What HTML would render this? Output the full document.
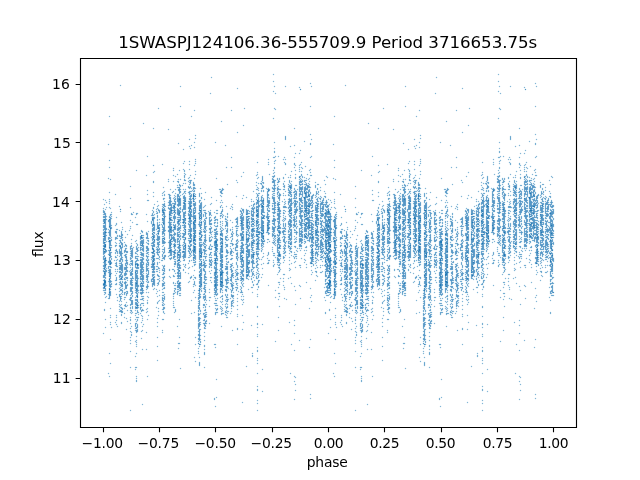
<!DOCTYPE html>
<html><head><meta charset="utf-8"><style>html,body{margin:0;padding:0;background:#fff}svg{display:block}</style></head>
<body><svg width="640" height="480" viewBox="0 0 640 480">
<defs><filter id="hf" x="0" y="0" width="640" height="480" filterUnits="userSpaceOnUse"><feConvolveMatrix order="3" kernelMatrix="0 0.1 0 0.1 1 0.1 0 0.1 0" divisor="1" edgeMode="none" preserveAlpha="false"/></filter></defs>
<rect width="640" height="480" fill="#fff"/>
<g filter="url(#hf)"><g id="P" fill="none" stroke="#1f77b4" stroke-width="1" shape-rendering="crispEdges">
<path stroke-opacity="0.550" d="M498 74.5h1m-63 3h1m61 4h1m36 2h1m-191 2h1m59 1h1m93 0h1m10 0h1m25 0h1m-13 1h1m-63 1h1m35 3h1m-64 2h1m64 0h1m-96 13h1m129 0h1m-153 2h1m85 0h1m29 0h1m0 1h1m-82 1h1m36 0h1m-123 6h1m81 0h1m81 2h1m-53 3h1m-79 2h1m99 2h1m-91 3h1m140 0h1m-127 1h1m68 3h1m72 2h1m-116 1h1m89 1h1m-1 1h1m-91 1h1m89 0h1m-97 1h1m95 0h1m25 0h1m-8 2h1m-111 1h1m20 0h1m58 0h1m-97 1h1m131 0h1m-203 1h1m201 0h1m-120 1h1m33 0h1m68 0h1m-106 1h1m100 0h1m-97 1h1m-5 1h1m83 0h1m-92 1h1m116 1h1m-27 1h1m-1 1h1m20 1h1m3 0h1m-153 3h1m127 0h1m2 0h1m32 0h1m-81 1h1m41 0h2m9 0h1m9 0h1m15 0h1m-116 2h1m72 0h1m14 0h1m1 0h1m-177 1h1m165 0h1m-92 1h1m4 0h1m5 0h1m78 0h1m-18 1h1m10 0h1m15 0h1m16 0h1m-119 1h1m11 0h1m78 0h1m10 0h1m8 0h1m-133 1h1m26 0h1m78 0h1m16 0h1m8 0h1m5 0h1m-148 1h1m40 0h1m100 0h1m3 0h1m5 1h1m-197 1h1m116 0h1m4 0h1m42 0h1m19 0h1m4 0h1m1 0h1m-129 1h1m100 0h1m27 0h1m-120 1h1m5 0h1m109 0h1m10 0h1m-175 1h1m36 0h1m5 0h1m4 0h1m88 0h1m21 0h1m13 0h1m-156 1h1m29 0h1m10 0h1m95 0h1m7 0h1m1 0h1m-149 1h1m89 0h1m13 0h1m16 0h1m35 0h1m-127 1h1m88 0h1m-97 1h1m7 0h1m9 0h1m61 0h1m11 0h1m15 0h1m9 0h1m5 0h1m5 0h1m-162 1h1m26 0h1m10 0h1m5 0h1m65 0h1m17 0h1m15 0h1m10 0h1m8 0h2m-137 1h1m8 0h1m56 0h1m20 0h1m9 0h3m24 0h2m1 0h1m23 0h1m-143 1h1m4 0h1m68 0h1m3 0h1m10 0h1m9 0h1m4 0h1m1 0h1m4 0h1m6 0h1m1 0h1m22 0h1m-220 1h1m79 0h1m5 0h1m21 0h1m40 0h1m4 0h1m9 0h1m4 0h1m1 0h1m3 0h1m11 0h1m4 0h1m5 0h1m2 0h1m-200 1h1m57 0h1m9 0h1m1 0h1m3 0h1m77 0h1m9 0h2m3 0h1m1 0h1m19 0h1m1 0h1m6 0h1m-125 1h2m3 0h3m44 0h1m25 0h1m10 0h3m2 0h1m10 0h1m10 0h1m1 0h1m1 0h3m17 0h1m-172 1h1m14 0h1m4 0h1m3 0h2m9 0h1m1 0h1m70 0h1m10 0h3m3 0h2m4 0h1m4 0h1m1 0h1m7 0h4m1 0h1m4 0h1m-157 1h1m24 0h1m10 0h2m2 0h1m43 0h1m18 0h1m5 0h2m8 0h3m2 0h2m10 0h1m9 0h3m3 0h1m9 0h1m-133 1h1m1 0h1m4 0h1m2 0h1m64 0h1m1 0h2m1 0h1m10 0h1m8 0h1m6 0h1m8 0h1m2 0h1m3 0h1m1 0h1m-130 1h1m9 0h1m3 0h2m32 0h1m33 0h1m12 0h1m2 0h1m5 0h1m4 0h1m2 0h1m7 0h4m1 0h3m2 0h1m7 0h2m6 0h1m-149 1h1m1 0h2m1 0h1m10 0h2m61 0h1m5 0h1m10 0h3m8 0h1m4 0h3m3 0h2m3 0h1m5 0h3m6 0h1m-186 1h1m49 0h1m7 0h1m1 0h1m71 0h2m10 0h1m3 0h1m4 0h2m3 0h4m7 0h1m2 0h1m2 0h1m1 0h3m5 0h1m-153 1h1m13 0h3m8 0h3m2 0h2m62 0h1m4 0h2m8 0h1m1 0h1m2 0h1m6 0h1m4 0h1m1 0h1m7 0h4m1 0h2m1 0h4m4 0h1m4 0h1m-142 1h1m9 0h1m1 0h1m1 0h3m4 0h1m21 0h1m35 0h1m2 0h2m3 0h1m1 0h1m3 0h4m1 0h2m9 0h1m1 0h2m2 0h1m4 0h4m1 0h4m9 0h1m-148 1h1m4 0h1m2 0h3m2 0h1m1 0h1m7 0h1m25 0h2m1 0h2m32 0h2m9 0h3m3 0h2m2 0h4m2 0h2m3 0h1m1 0h1m3 0h1m2 0h1m1 0h4m1 0h4m1 0h1m7 0h1m-171 1h1m30 0h2m12 0h1m1 0h1m26 0h2m35 0h1m2 0h1m1 0h1m5 0h1m4 0h1m2 0h1m10 0h2m1 0h1m3 0h1m3 0h1m1 0h1m2 0h2m2 0h2m10 0h1m-157 1h1m8 0h1m5 0h2m3 0h2m3 0h3m1 0h2m25 0h2m31 0h1m7 0h1m1 0h1m3 0h2m3 0h3m3 0h1m6 0h1m3 0h2m3 0h3m2 0h4m3 0h1m1 0h2m6 0h1m1 0h1m5 0h1m-216 1h1m43 0h1m9 0h1m8 0h1m6 0h2m3 0h1m3 0h2m15 0h1m14 0h2m45 0h1m9 0h2m9 0h4m1 0h2m1 0h1m3 0h1m1 0h1m1 0h5m1 0h1m5 0h1m1 0h1m-157 1h1m12 0h1m3 0h1m3 0h1m1 0h1m3 0h2m2 0h2m4 0h1m1 0h1m19 0h2m33 0h1m1 0h2m7 0h1m5 0h2m2 0h1m1 0h1m3 0h1m5 0h2m4 0h2m2 0h2m1 0h1m1 0h1m1 0h1m1 0h1m1 0h1m5 0h2m7 0h1m-211 1h1m31 0h1m16 0h1m3 0h2m7 0h2m3 0h1m6 0h1m1 0h1m3 0h1m3 0h1m57 0h1m9 0h2m3 0h1m4 0h1m1 0h2m7 0h1m1 0h2m2 0h3m2 0h4m2 0h2m1 0h2m3 0h1m2 0h1m1 0h1m-157 1h1m1 0h1m4 0h2m3 0h1m2 0h2m1 0h1m3 0h1m5 0h2m2 0h1m4 0h1m20 0h1m22 0h1m13 0h2m3 0h1m4 0h2m4 0h2m3 0h3m2 0h1m1 0h1m2 0h2m1 0h1m2 0h1m1 0h1m2 0h1m2 0h1m2 0h2m2 0h1m2 0h2m1 0h1m-163 1h1m15 0h1m5 0h1m1 0h3m3 0h2m4 0h3m2 0h1m4 0h1m21 0h1m14 0h1m20 0h1m3 0h1m5 0h1m4 0h1m4 0h1m1 0h1m10 0h2m2 0h2m3 0h1m2 0h1m2 0h4m2 0h2m3 0h1m3 0h1m3 0h2m-157 1h2m3 0h1m2 0h1m1 0h1m3 0h3m4 0h1m2 0h1m7 0h1m9 0h1m34 0h1m9 0h1m1 0h1m2 0h2m4 0h2m3 0h3m3 0h2m14 0h1m1 0h1m4 0h1m1 0h1m1 0h3m3 0h2m2 0h1m2 0h1m2 0h1m3 0h1m-196 1h1m32 0h2m4 0h2m2 0h1m1 0h1m1 0h4m2 0h3m3 0h2m1 0h1m2 0h1m5 0h1m40 0h1m15 0h1m2 0h1m1 0h1m3 0h1m1 0h1m2 0h3m3 0h2m9 0h1m1 0h1m1 0h4m3 0h2m3 0h1m3 0h1m1 0h2m4 0h1m1 0h2m2 0h1m-221 1h1m5 0h1m53 0h1m6 0h1m3 0h2m1 0h2m1 0h1m3 0h2m3 0h3m1 0h2m9 0h1m46 0h1m4 0h1m1 0h1m2 0h1m1 0h1m3 0h1m5 0h2m4 0h1m4 0h1m3 0h4m7 0h3m2 0h2m1 0h3m1 0h1m4 0h2m2 0h1m2 0h1m-219 1h1m41 0h2m20 0h2m3 0h1m2 0h4m2 0h3m4 0h1m2 0h1m5 0h2m15 0h1m4 0h1m36 0h1m1 0h3m4 0h3m3 0h2m4 0h1m9 0h3m2 0h2m3 0h4m1 0h2m2 0h5m4 0h1m4 0h2m2 0h1m-218 1h1m47 0h1m6 0h1m4 0h3m2 0h2m1 0h4m3 0h1m3 0h4m2 0h1m4 0h1m51 0h1m1 0h1m3 0h3m1 0h3m3 0h3m3 0h2m2 0h1m4 0h1m2 0h1m2 0h4m2 0h4m2 0h2m2 0h3m1 0h1m1 0h1m1 0h1m4 0h2m1 0h1m1 0h1m3 0h1m-221 1h1m61 0h3m4 0h1m2 0h3m2 0h2m4 0h3m3 0h1m3 0h1m1 0h1m18 0h1m1 0h1m33 0h3m3 0h2m3 0h3m4 0h2m2 0h2m4 0h1m3 0h2m1 0h1m1 0h1m1 0h1m1 0h1m1 0h1m1 0h2m1 0h4m1 0h1m1 0h2m2 0h2m4 0h3m1 0h3m-219 1h1m54 0h1m4 0h2m1 0h4m2 0h3m2 0h1m1 0h1m2 0h4m1 0h3m4 0h2m9 0h1m42 0h1m1 0h3m2 0h3m4 0h2m2 0h4m1 0h2m6 0h1m2 0h1m1 0h3m1 0h3m2 0h1m2 0h1m1 0h3m1 0h4m1 0h1m2 0h3m1 0h3m3 0h1m-223 1h1m49 0h1m7 0h3m4 0h3m2 0h2m1 0h4m3 0h2m3 0h2m2 0h3m4 0h2m8 0h1m21 0h1m20 0h2m1 0h1m1 0h1m1 0h2m5 0h2m5 0h1m2 0h2m5 0h1m3 0h1m1 0h2m2 0h3m2 0h2m3 0h3m1 0h3m1 0h1m4 0h2m1 0h7m-169 1h1m4 0h2m3 0h4m1 0h2m2 0h4m2 0h3m3 0h3m1 0h3m3 0h3m3 0h1m15 0h1m29 0h1m1 0h1m4 0h2m1 0h1m5 0h3m2 0h1m1 0h2m1 0h2m10 0h3m2 0h2m3 0h1m1 0h2m1 0h9m2 0h2m3 0h1m2 0h1m1 0h1m1 0h2m-210 1h1m37 0h1m4 0h1m1 0h2m5 0h1m1 0h1m4 0h1m4 0h3m3 0h1m1 0h1m2 0h1m4 0h3m2 0h1m15 0h1m5 0h1m4 0h1m17 0h1m3 0h1m2 0h4m1 0h1m4 0h3m3 0h1m1 0h1m3 0h1m4 0h3m3 0h2m3 0h2m1 0h1m1 0h1m1 0h2m1 0h4m4 0h1m2 0h1m1 0h2m1 0h1m1 0h2m1 0h4m-223 1h1m2 0h1m20 0h1m22 0h1m14 0h1m1 0h6m4 0h1m2 0h3m2 0h3m3 0h2m3 0h3m1 0h1m16 0h1m1 0h1m9 0h1m19 0h1m1 0h1m1 0h3m2 0h3m4 0h1m5 0h2m1 0h3m3 0h4m1 0h4m2 0h1m1 0h1m2 0h2m3 0h1m4 0h1m1 0h2m2 0h3m2 0h1m1 0h2m2 0h2m-225 1h1m6 0h1m42 0h1m3 0h1m4 0h1m1 0h1m3 0h4m1 0h2m2 0h1m1 0h2m2 0h3m2 0h2m3 0h3m3 0h3m28 0h1m10 0h1m9 0h4m1 0h1m1 0h1m3 0h2m3 0h1m1 0h1m2 0h3m3 0h2m8 0h1m1 0h2m4 0h1m2 0h4m1 0h1m1 0h3m2 0h1m3 0h4m1 0h4m-219 1h1m50 0h1m1 0h1m3 0h3m4 0h3m2 0h1m2 0h2m1 0h1m1 0h4m3 0h3m1 0h1m1 0h1m3 0h1m1 0h1m20 0h1m9 0h1m9 0h2m2 0h1m5 0h2m2 0h3m2 0h3m3 0h1m4 0h4m1 0h1m1 0h1m9 0h3m2 0h4m1 0h2m4 0h2m1 0h2m5 0h3m2 0h1m1 0h2m1 0h1m1 0h2m-226 1h1m48 0h1m5 0h2m3 0h3m4 0h1m1 0h4m1 0h3m2 0h1m8 0h1m1 0h3m5 0h1m1 0h3m4 0h1m5 0h2m4 0h1m17 0h1m1 0h2m2 0h3m2 0h1m1 0h1m3 0h2m2 0h3m3 0h3m4 0h1m3 0h3m2 0h2m5 0h1m4 0h3m2 0h3m1 0h1m2 0h3m2 0h2m1 0h3m2 0h1m1 0h1m2 0h2m1 0h1m-226 1h2m15 0h1m32 0h1m2 0h1m2 0h1m2 0h2m5 0h3m5 0h4m1 0h1m2 0h1m2 0h4m1 0h1m1 0h1m4 0h2m6 0h1m12 0h2m17 0h2m1 0h1m2 0h2m1 0h1m1 0h3m2 0h1m1 0h1m2 0h3m4 0h2m4 0h1m2 0h4m4 0h1m2 0h3m3 0h3m2 0h4m1 0h3m1 0h5m3 0h3m1 0h4m2 0h3m-226 1h2m6 0h1m21 0h1m19 0h1m3 0h1m1 0h1m2 0h1m1 0h1m4 0h3m1 0h3m1 0h4m2 0h3m3 0h3m1 0h3m3 0h3m2 0h2m3 0h2m3 0h1m6 0h1m19 0h1m1 0h1m2 0h2m3 0h1m1 0h2m1 0h1m1 0h1m2 0h4m2 0h1m4 0h4m3 0h1m3 0h1m5 0h1m1 0h1m2 0h3m3 0h2m1 0h1m1 0h5m5 0h3m2 0h1m4 0h4m-225 1h2m25 0h1m4 0h2m14 0h1m3 0h2m5 0h2m4 0h4m2 0h1m1 0h2m4 0h3m2 0h1m4 0h1m4 0h2m5 0h2m2 0h2m5 0h2m2 0h2m5 0h1m13 0h2m3 0h4m1 0h1m1 0h1m4 0h1m8 0h1m5 0h2m2 0h4m2 0h2m4 0h1m1 0h1m3 0h1m3 0h2m3 0h1m1 0h2m1 0h1m1 0h2m7 0h3m1 0h1m1 0h3m-226 1h3m4 0h2m19 0h2m3 0h1m9 0h1m5 0h1m1 0h1m7 0h3m5 0h1m6 0h3m3 0h2m3 0h4m1 0h1m5 0h3m1 0h1m1 0h1m3 0h2m11 0h1m4 0h1m12 0h1m1 0h1m4 0h1m3 0h3m2 0h3m2 0h2m4 0h2m8 0h3m8 0h1m2 0h1m2 0h2m4 0h1m4 0h2m1 0h1m2 0h1m4 0h2m3 0h3m1 0h3m-223 1h1m4 0h1m40 0h3m3 0h1m4 0h1m1 0h1m4 0h3m2 0h1m3 0h3m2 0h3m2 0h4m1 0h3m3 0h3m1 0h1m1 0h1m3 0h1m1 0h1m8 0h2m1 0h1m17 0h2m8 0h3m4 0h1m3 0h3m2 0h1m5 0h1m3 0h3m3 0h1m5 0h3m1 0h1m5 0h4m1 0h1m1 0h2m1 0h1m1 0h2m2 0h4m1 0h4m1 0h2m-224 1h4m2 0h1m1 0h1m45 0h1m5 0h3m3 0h1m3 0h3m4 0h1m2 0h2m4 0h7m3 0h3m1 0h1m1 0h1m9 0h1m4 0h1m1 0h1m2 0h1m1 0h1m12 0h2m1 0h1m2 0h2m1 0h1m2 0h2m2 0h3m2 0h1m1 0h2m1 0h4m3 0h2m3 0h3m4 0h1m3 0h2m3 0h1m1 0h1m2 0h4m1 0h1m1 0h1m2 0h1m1 0h1m3 0h3m3 0h2m1 0h4m-225 1h3m3 0h2m5 0h1m18 0h1m16 0h3m2 0h1m11 0h3m1 0h3m1 0h4m2 0h2m5 0h1m2 0h3m10 0h1m2 0h2m3 0h2m6 0h1m4 0h1m9 0h1m2 0h4m2 0h2m3 0h1m5 0h2m2 0h2m3 0h3m9 0h2m3 0h1m6 0h2m1 0h2m1 0h1m3 0h2m2 0h1m2 0h6m4 0h1m2 0h1m3 0h2m1 0h1m-223 1h1m4 0h2m40 0h3m8 0h2m5 0h1m2 0h3m4 0h1m3 0h1m3 0h1m4 0h2m4 0h1m1 0h1m3 0h2m2 0h1m4 0h1m5 0h1m4 0h1m10 0h2m2 0h4m2 0h1m1 0h2m1 0h3m2 0h1m4 0h1m1 0h2m2 0h1m5 0h2m2 0h3m4 0h2m5 0h1m2 0h1m1 0h1m3 0h2m3 0h1m1 0h2m3 0h1m2 0h4m1 0h2m2 0h2m2 0h1m-226 1h1m1 0h2m3 0h1m42 0h1m3 0h1m1 0h1m2 0h3m4 0h1m1 0h1m2 0h1m2 0h4m1 0h1m1 0h2m3 0h2m2 0h1m1 0h1m3 0h1m1 0h1m2 0h1m4 0h1m1 0h1m3 0h3m7 0h2m8 0h3m3 0h3m2 0h3m2 0h2m4 0h2m2 0h1m5 0h1m5 0h3m1 0h3m3 0h1m1 0h1m3 0h2m2 0h3m5 0h2m1 0h6m6 0h3m6 0h2m1 0h1m-226 1h3m2 0h3m19 0h1m21 0h2m3 0h1m4 0h3m4 0h4m1 0h1m3 0h3m2 0h3m3 0h3m8 0h1m3 0h2m3 0h3m2 0h2m1 0h1m9 0h1m2 0h1m6 0h1m2 0h4m2 0h3m3 0h1m1 0h1m1 0h2m3 0h2m4 0h1m1 0h1m2 0h4m3 0h1m2 0h1m1 0h1m4 0h3m1 0h2m1 0h1m2 0h1m1 0h2m1 0h1m2 0h6m2 0h4m1 0h1m1 0h1m2 0h3m-225 1h3m2 0h3m36 0h1m3 0h1m1 0h1m9 0h2m4 0h1m4 0h1m2 0h1m1 0h1m3 0h2m3 0h4m1 0h3m3 0h1m1 0h1m1 0h1m1 0h1m3 0h2m9 0h1m1 0h1m2 0h2m9 0h2m4 0h1m3 0h2m1 0h1m1 0h2m4 0h2m2 0h3m4 0h2m2 0h3m2 0h3m3 0h1m4 0h4m2 0h3m2 0h1m1 0h2m1 0h1m3 0h2m3 0h1m1 0h2m3 0h3m2 0h3m-223 1h1m3 0h2m10 0h1m10 0h1m18 0h1m1 0h1m3 0h1m1 0h1m2 0h3m3 0h4m1 0h2m2 0h2m1 0h1m1 0h1m1 0h2m3 0h2m3 0h2m3 0h2m3 0h2m3 0h1m4 0h2m1 0h1m2 0h1m5 0h2m4 0h1m3 0h2m3 0h3m2 0h1m1 0h2m1 0h1m2 0h1m1 0h3m2 0h3m3 0h3m4 0h1m3 0h2m8 0h1m1 0h2m2 0h1m4 0h3m3 0h7m4 0h3m2 0h1m1 0h3m1 0h1m-225 1h3m3 0h2m5 0h1m34 0h1m1 0h1m3 0h1m6 0h1m4 0h2m6 0h3m3 0h1m4 0h1m1 0h2m2 0h1m4 0h1m1 0h1m2 0h2m3 0h3m2 0h1m2 0h1m4 0h1m3 0h2m9 0h1m2 0h1m1 0h1m3 0h2m1 0h1m2 0h2m2 0h1m4 0h3m3 0h2m3 0h3m3 0h2m3 0h1m1 0h1m2 0h3m3 0h1m1 0h1m3 0h5m2 0h3m1 0h2m2 0h2m1 0h1m1 0h2m3 0h3m-223 1h1m3 0h2m5 0h1m19 0h2m14 0h1m1 0h1m2 0h1m1 0h1m1 0h1m1 0h2m4 0h3m1 0h1m1 0h1m2 0h2m4 0h1m3 0h3m2 0h1m1 0h1m2 0h4m2 0h2m3 0h3m8 0h1m5 0h2m9 0h1m3 0h3m2 0h2m1 0h1m1 0h2m3 0h1m1 0h2m1 0h2m4 0h3m3 0h2m3 0h1m1 0h1m2 0h1m1 0h1m2 0h4m1 0h2m1 0h1m2 0h3m2 0h1m1 0h1m1 0h2m1 0h3m1 0h4m1 0h2m3 0h4m-226 1h3m3 0h3m3 0h1m36 0h3m2 0h3m2 0h1m1 0h1m4 0h2m2 0h3m2 0h1m1 0h1m1 0h4m3 0h2m2 0h3m3 0h3m2 0h1m9 0h1m2 0h1m4 0h1m2 0h3m8 0h1m3 0h4m2 0h3m2 0h1m2 0h1m1 0h3m2 0h2m5 0h1m5 0h1m3 0h2m3 0h1m1 0h1m3 0h3m1 0h3m4 0h3m1 0h3m2 0h3m1 0h1m1 0h2m4 0h2m2 0h1m1 0h2m-226 1h3m4 0h1m19 0h1m21 0h1m1 0h1m2 0h2m3 0h1m1 0h1m3 0h4m2 0h2m1 0h1m2 0h1m3 0h2m3 0h2m2 0h3m3 0h2m3 0h3m3 0h1m4 0h3m2 0h1m4 0h1m1 0h1m7 0h4m2 0h2m3 0h4m1 0h3m2 0h1m1 0h1m2 0h3m3 0h2m3 0h1m2 0h1m1 0h3m3 0h1m1 0h1m2 0h1m1 0h2m2 0h2m1 0h1m3 0h1m3 0h5m1 0h2m3 0h1m4 0h1m1 0h1m1 0h4m-226 1h3m3 0h3m10 0h1m30 0h2m2 0h3m2 0h3m3 0h3m2 0h1m1 0h1m2 0h3m2 0h3m3 0h2m2 0h3m4 0h2m2 0h2m5 0h1m9 0h1m10 0h1m8 0h3m2 0h1m2 0h1m7 0h2m1 0h4m3 0h3m2 0h4m2 0h3m3 0h1m4 0h2m2 0h1m2 0h1m4 0h2m1 0h2m1 0h2m1 0h4m3 0h1m2 0h2m2 0h1m1 0h2m-224 1h3m4 0h1m18 0h1m21 0h3m2 0h1m1 0h1m3 0h2m4 0h3m2 0h2m1 0h4m3 0h1m5 0h2m2 0h2m8 0h2m3 0h3m4 0h1m3 0h1m1 0h1m2 0h1m1 0h1m8 0h2m3 0h3m3 0h3m2 0h3m1 0h1m2 0h1m1 0h3m3 0h1m1 0h1m2 0h3m2 0h1m1 0h2m1 0h4m3 0h1m6 0h1m2 0h3m2 0h6m1 0h2m2 0h1m1 0h1m4 0h1m1 0h4m-225 1h4m1 0h1m1 0h1m5 0h2m4 0h1m29 0h3m1 0h1m2 0h1m2 0h3m4 0h1m1 0h1m1 0h3m1 0h3m4 0h1m3 0h4m1 0h2m6 0h1m1 0h1m1 0h1m3 0h2m3 0h3m3 0h1m2 0h1m3 0h1m2 0h1m1 0h1m8 0h3m2 0h1m1 0h1m2 0h1m1 0h1m3 0h2m2 0h3m3 0h2m3 0h3m2 0h1m7 0h1m3 0h3m2 0h1m4 0h1m2 0h1m1 0h3m1 0h1m2 0h3m2 0h2m2 0h6m-223 1h1m1 0h1m3 0h2m8 0h1m9 0h1m11 0h1m10 0h3m3 0h2m3 0h3m2 0h6m3 0h2m1 0h1m2 0h1m1 0h1m3 0h3m1 0h2m4 0h2m3 0h1m1 0h1m3 0h1m3 0h2m5 0h2m3 0h2m2 0h1m5 0h2m3 0h1m5 0h2m2 0h4m1 0h2m4 0h1m5 0h1m4 0h2m2 0h3m3 0h2m3 0h1m1 0h2m2 0h2m3 0h1m1 0h1m2 0h3m2 0h3m4 0h2m3 0h8m-225 1h2m3 0h2m4 0h2m4 0h1m3 0h1m15 0h2m5 0h1m3 0h1m4 0h3m2 0h3m3 0h4m1 0h1m5 0h1m4 0h2m2 0h4m1 0h3m4 0h2m1 0h3m4 0h1m1 0h1m3 0h2m2 0h2m4 0h2m4 0h1m3 0h1m5 0h2m2 0h1m1 0h1m2 0h4m1 0h4m2 0h2m3 0h1m4 0h3m3 0h3m1 0h4m2 0h2m1 0h1m4 0h1m2 0h4m1 0h3m1 0h1m2 0h3m1 0h4m1 0h4m1 0h2m1 0h1m-226 1h2m1 0h1m1 0h3m4 0h2m4 0h1m20 0h1m3 0h1m7 0h1m3 0h1m3 0h2m5 0h3m2 0h1m2 0h3m10 0h1m3 0h2m3 0h3m2 0h2m3 0h3m2 0h3m4 0h1m5 0h1m4 0h1m3 0h1m5 0h2m2 0h2m1 0h1m2 0h1m3 0h2m1 0h3m4 0h3m4 0h1m4 0h1m1 0h1m1 0h2m4 0h1m1 0h2m2 0h4m1 0h1m1 0h2m5 0h1m2 0h2m2 0h1m1 0h2m1 0h1m1 0h1m1 0h4m-225 1h3m3 0h2m5 0h1m4 0h1m18 0h1m5 0h2m6 0h1m2 0h1m4 0h3m4 0h1m4 0h2m1 0h1m2 0h1m1 0h4m2 0h3m3 0h2m4 0h1m9 0h1m4 0h3m2 0h3m3 0h1m4 0h1m1 0h1m2 0h1m3 0h3m3 0h1m2 0h1m1 0h1m1 0h1m5 0h1m3 0h1m4 0h2m2 0h1m1 0h1m4 0h2m2 0h1m6 0h2m4 0h1m2 0h3m3 0h2m1 0h4m1 0h1m1 0h2m3 0h1m4 0h1m1 0h2m-226 1h3m3 0h2m10 0h2m4 0h1m18 0h2m4 0h2m2 0h1m1 0h1m3 0h1m1 0h1m4 0h3m1 0h3m1 0h3m3 0h3m2 0h1m2 0h1m7 0h3m3 0h1m5 0h1m2 0h4m3 0h2m8 0h2m3 0h2m2 0h4m3 0h2m2 0h3m3 0h1m1 0h1m1 0h2m5 0h1m3 0h2m3 0h1m1 0h1m3 0h3m2 0h4m4 0h1m2 0h4m5 0h4m3 0h2m4 0h3m1 0h3m-224 1h3m2 0h2m6 0h1m1 0h1m1 0h2m9 0h1m9 0h2m3 0h1m5 0h2m2 0h1m6 0h1m4 0h4m1 0h1m2 0h2m1 0h1m2 0h2m4 0h3m1 0h2m6 0h2m1 0h2m3 0h1m5 0h1m4 0h3m4 0h1m4 0h1m3 0h1m1 0h1m1 0h2m1 0h1m2 0h1m1 0h2m1 0h3m2 0h2m3 0h3m8 0h4m1 0h3m9 0h3m7 0h1m1 0h2m1 0h2m1 0h2m2 0h2m2 0h4m1 0h1m2 0h1m1 0h4m-224 1h1m4 0h1m6 0h1m1 0h3m18 0h2m5 0h1m5 0h2m2 0h3m2 0h2m5 0h1m1 0h1m1 0h1m3 0h4m1 0h2m5 0h3m1 0h3m3 0h1m5 0h1m5 0h1m2 0h3m5 0h1m2 0h2m4 0h2m4 0h1m3 0h3m2 0h1m2 0h1m1 0h2m1 0h1m1 0h1m1 0h1m2 0h2m9 0h1m1 0h2m2 0h1m4 0h2m3 0h2m1 0h1m2 0h1m4 0h4m1 0h1m1 0h1m1 0h1m1 0h1m1 0h2m4 0h1m2 0h2m2 0h1m-222 1h2m2 0h2m1 0h1m3 0h2m4 0h2m2 0h1m14 0h1m1 0h2m2 0h2m3 0h1m2 0h1m2 0h3m4 0h1m4 0h1m1 0h4m4 0h1m2 0h4m7 0h1m1 0h1m4 0h2m2 0h2m3 0h2m1 0h1m2 0h1m4 0h1m4 0h3m2 0h1m10 0h1m1 0h1m2 0h1m1 0h1m3 0h2m4 0h2m1 0h3m10 0h1m2 0h1m1 0h1m2 0h1m1 0h2m2 0h2m1 0h1m4 0h1m5 0h1m1 0h4m1 0h3m1 0h1m1 0h3m2 0h3m2 0h1m2 0h1m-226 1h3m2 0h3m4 0h3m2 0h2m18 0h3m3 0h3m3 0h2m3 0h3m2 0h1m1 0h1m4 0h1m1 0h4m2 0h2m1 0h1m7 0h4m1 0h2m5 0h1m4 0h1m3 0h1m4 0h3m3 0h1m1 0h1m2 0h1m6 0h1m8 0h3m2 0h4m1 0h2m4 0h2m3 0h1m10 0h1m1 0h1m3 0h1m4 0h1m4 0h3m3 0h1m3 0h3m4 0h2m1 0h5m2 0h3m3 0h2m2 0h1m-224 1h3m2 0h1m2 0h1m3 0h1m6 0h1m8 0h1m8 0h1m2 0h1m8 0h3m1 0h4m2 0h1m7 0h1m2 0h3m1 0h2m1 0h1m2 0h3m5 0h1m1 0h1m1 0h1m3 0h3m2 0h2m3 0h1m1 0h1m4 0h2m2 0h2m3 0h2m1 0h1m3 0h1m4 0h1m3 0h3m3 0h1m5 0h1m2 0h3m4 0h1m3 0h2m5 0h1m2 0h3m3 0h2m3 0h4m2 0h1m1 0h1m2 0h4m1 0h1m4 0h1m1 0h3m3 0h2m2 0h1m1 0h1m1 0h1m1 0h1m-225 1h3m4 0h2m7 0h2m1 0h1m13 0h1m4 0h3m3 0h2m3 0h1m4 0h2m3 0h2m5 0h1m3 0h3m1 0h1m1 0h1m4 0h1m3 0h4m3 0h1m3 0h3m2 0h3m2 0h3m3 0h3m2 0h1m1 0h1m3 0h2m3 0h1m4 0h2m2 0h4m2 0h3m3 0h3m1 0h1m1 0h2m1 0h2m1 0h1m8 0h1m1 0h1m1 0h4m2 0h2m5 0h1m8 0h4m4 0h3m1 0h2m2 0h4m1 0h2m4 0h2m-225 1h1m2 0h1m1 0h1m1 0h1m9 0h1m14 0h1m4 0h4m4 0h1m4 0h2m4 0h1m2 0h3m4 0h4m1 0h2m1 0h3m4 0h1m4 0h1m1 0h1m1 0h1m1 0h1m8 0h2m3 0h2m3 0h1m6 0h2m8 0h1m4 0h1m1 0h1m7 0h3m2 0h1m1 0h2m2 0h2m2 0h2m1 0h1m4 0h1m4 0h1m2 0h2m4 0h2m1 0h1m1 0h2m1 0h1m3 0h2m2 0h3m2 0h2m3 0h1m1 0h2m2 0h1m1 0h1m2 0h2m2 0h4m-225 1h1m1 0h1m3 0h2m4 0h1m4 0h2m2 0h1m15 0h4m2 0h1m5 0h3m2 0h3m2 0h4m2 0h2m5 0h1m1 0h1m1 0h1m3 0h2m4 0h2m2 0h2m4 0h3m1 0h1m1 0h1m8 0h1m5 0h3m2 0h1m11 0h1m3 0h2m3 0h2m3 0h1m1 0h1m3 0h2m3 0h1m4 0h1m4 0h3m2 0h4m3 0h2m2 0h1m1 0h2m2 0h2m3 0h1m1 0h2m2 0h1m5 0h3m1 0h3m2 0h3m2 0h2m1 0h1m-226 1h2m4 0h2m5 0h1m2 0h1m1 0h2m8 0h1m4 0h1m3 0h4m3 0h2m2 0h3m3 0h2m3 0h3m4 0h3m2 0h1m4 0h1m4 0h2m3 0h1m3 0h3m3 0h1m3 0h2m9 0h3m3 0h2m8 0h3m3 0h2m3 0h2m3 0h1m2 0h1m1 0h4m1 0h1m1 0h2m1 0h3m9 0h1m1 0h1m2 0h1m6 0h1m2 0h4m9 0h1m2 0h1m8 0h1m1 0h1m2 0h1m1 0h3m2 0h4m-225 1h1m4 0h2m10 0h2m2 0h1m11 0h1m2 0h1m7 0h1m4 0h2m2 0h3m9 0h3m1 0h3m1 0h3m3 0h1m1 0h1m4 0h2m2 0h1m4 0h4m1 0h2m4 0h1m3 0h2m1 0h1m2 0h1m1 0h1m2 0h3m4 0h2m1 0h2m5 0h2m1 0h3m1 0h1m1 0h2m3 0h3m2 0h1m1 0h1m10 0h1m2 0h3m4 0h1m6 0h1m7 0h2m10 0h2m2 0h4m1 0h4m1 0h1m2 0h1m-226 1h2m4 0h3m3 0h2m2 0h2m1 0h1m2 0h2m4 0h1m5 0h1m2 0h1m1 0h2m7 0h4m3 0h1m4 0h1m5 0h1m5 0h1m4 0h1m1 0h1m1 0h1m3 0h1m1 0h2m1 0h1m5 0h3m1 0h1m2 0h1m3 0h1m3 0h4m3 0h2m3 0h2m4 0h1m3 0h2m3 0h3m3 0h3m1 0h3m3 0h2m2 0h2m12 0h1m1 0h1m1 0h2m3 0h2m2 0h1m10 0h3m8 0h4m1 0h3m2 0h3m2 0h2m-224 1h1m5 0h1m5 0h1m3 0h1m2 0h1m1 0h1m1 0h1m3 0h2m4 0h1m5 0h2m2 0h2m4 0h3m2 0h2m3 0h1m6 0h2m2 0h3m2 0h2m3 0h3m2 0h3m2 0h1m1 0h1m3 0h3m2 0h2m3 0h1m1 0h2m2 0h3m2 0h1m1 0h1m3 0h2m2 0h1m5 0h2m2 0h3m3 0h3m2 0h1m4 0h3m2 0h1m1 0h1m13 0h1m1 0h2m2 0h1m1 0h1m2 0h1m2 0h1m2 0h2m3 0h3m4 0h1m3 0h1m5 0h5m1 0h2m1 0h3m-224 1h2m4 0h2m8 0h3m7 0h1m2 0h1m2 0h1m1 0h1m1 0h2m1 0h1m2 0h2m4 0h1m3 0h1m1 0h1m5 0h1m4 0h3m2 0h1m2 0h4m2 0h1m5 0h1m3 0h1m1 0h1m4 0h1m3 0h2m3 0h1m4 0h1m1 0h1m4 0h2m2 0h1m9 0h3m3 0h2m3 0h2m3 0h3m3 0h2m3 0h1m9 0h1m4 0h2m5 0h1m3 0h1m1 0h1m4 0h1m9 0h2m9 0h1m1 0h1m1 0h2m3 0h2m-223 1h1m4 0h2m9 0h2m3 0h2m3 0h3m3 0h2m2 0h1m1 0h2m2 0h3m4 0h1m3 0h1m1 0h1m4 0h1m3 0h3m3 0h1m3 0h2m3 0h3m2 0h3m2 0h3m3 0h3m3 0h1m2 0h2m1 0h1m3 0h1m1 0h1m2 0h3m7 0h1m2 0h1m1 0h1m4 0h4m2 0h2m4 0h1m3 0h3m2 0h1m15 0h4m2 0h3m3 0h3m5 0h1m1 0h1m1 0h1m10 0h1m2 0h1m2 0h1m1 0h1m1 0h2m1 0h1m-223 1h2m11 0h1m2 0h1m1 0h1m3 0h1m4 0h1m1 0h1m3 0h2m2 0h4m3 0h2m3 0h1m3 0h4m2 0h3m5 0h2m3 0h1m3 0h2m2 0h3m3 0h1m3 0h1m1 0h1m3 0h3m1 0h2m4 0h3m3 0h3m2 0h3m3 0h1m4 0h1m3 0h1m5 0h1m1 0h1m3 0h3m1 0h2m3 0h4m2 0h1m9 0h1m4 0h1m6 0h1m5 0h1m20 0h1m3 0h4m1 0h3m3 0h2m-225 1h1m1 0h2m1 0h2m5 0h2m2 0h1m1 0h1m2 0h2m5 0h2m4 0h2m1 0h1m1 0h2m2 0h3m4 0h2m2 0h2m5 0h1m6 0h1m2 0h2m1 0h1m2 0h1m4 0h1m2 0h1m1 0h1m1 0h2m1 0h1m3 0h3m1 0h4m8 0h1m4 0h3m3 0h2m3 0h1m3 0h3m2 0h4m2 0h4m2 0h2m7 0h1m15 0h2m5 0h1m4 0h1m6 0h1m3 0h1m3 0h1m1 0h1m4 0h2m8 0h1m1 0h1m2 0h1m-224 1h1m1 0h2m2 0h1m6 0h2m1 0h3m2 0h4m2 0h3m3 0h2m5 0h1m2 0h1m7 0h1m2 0h1m1 0h1m2 0h1m1 0h1m4 0h6m3 0h2m2 0h1m1 0h2m2 0h2m1 0h1m2 0h2m4 0h2m2 0h2m8 0h2m1 0h1m2 0h2m4 0h2m2 0h3m8 0h3m3 0h3m1 0h1m4 0h3m2 0h1m10 0h1m4 0h1m1 0h1m3 0h1m1 0h1m4 0h2m5 0h1m13 0h3m2 0h1m1 0h1m1 0h4m1 0h1m-223 1h3m3 0h3m3 0h1m1 0h1m1 0h3m2 0h1m1 0h2m3 0h2m2 0h1m4 0h2m5 0h2m2 0h1m1 0h1m2 0h4m3 0h2m3 0h4m1 0h1m1 0h1m1 0h4m1 0h4m3 0h1m1 0h1m1 0h3m3 0h4m1 0h1m5 0h2m3 0h2m3 0h3m3 0h3m1 0h2m1 0h1m3 0h1m2 0h2m1 0h1m3 0h3m2 0h3m1 0h1m11 0h1m8 0h3m4 0h2m5 0h1m2 0h1m15 0h2m3 0h3m2 0h3m1 0h1m1 0h1m-224 1h2m4 0h2m4 0h1m1 0h1m1 0h4m7 0h3m2 0h2m4 0h3m2 0h2m4 0h3m2 0h1m5 0h1m6 0h2m2 0h2m1 0h1m2 0h1m3 0h2m3 0h2m2 0h1m1 0h1m3 0h2m3 0h2m4 0h1m3 0h3m2 0h2m6 0h1m2 0h2m4 0h2m2 0h2m1 0h1m2 0h1m1 0h2m3 0h1m2 0h3m4 0h1m4 0h1m4 0h2m3 0h2m3 0h2m4 0h1m15 0h1m5 0h3m1 0h3m4 0h1m1 0h1m1 0h2m-225 1h1m4 0h3m9 0h2m3 0h2m4 0h2m4 0h1m2 0h4m4 0h1m5 0h1m2 0h2m3 0h1m7 0h2m1 0h2m2 0h1m1 0h2m2 0h3m4 0h1m2 0h2m4 0h1m4 0h1m1 0h1m2 0h2m3 0h3m3 0h3m7 0h1m5 0h2m2 0h1m5 0h4m1 0h2m1 0h1m1 0h3m9 0h1m9 0h1m1 0h1m13 0h3m14 0h2m2 0h1m1 0h2m2 0h1m3 0h1m1 0h1m-224 1h1m5 0h1m6 0h1m2 0h2m2 0h2m4 0h3m8 0h3m2 0h1m5 0h3m3 0h1m3 0h1m1 0h2m3 0h3m2 0h1m2 0h4m2 0h3m3 0h1m1 0h1m1 0h3m3 0h1m1 0h1m7 0h1m1 0h1m2 0h2m4 0h3m3 0h2m3 0h2m4 0h1m2 0h3m3 0h1m1 0h2m1 0h3m3 0h1m9 0h1m5 0h2m2 0h2m1 0h1m4 0h1m5 0h1m12 0h1m6 0h3m1 0h1m1 0h1m2 0h1m2 0h1m2 0h1m-224 1h2m5 0h2m3 0h1m3 0h1m1 0h1m3 0h2m4 0h2m2 0h4m4 0h1m2 0h3m3 0h1m1 0h1m4 0h1m2 0h1m1 0h2m2 0h1m4 0h3m1 0h1m1 0h2m1 0h4m4 0h1m3 0h2m3 0h2m2 0h4m9 0h2m2 0h3m2 0h2m9 0h2m2 0h1m5 0h4m1 0h2m4 0h1m5 0h1m14 0h3m2 0h1m9 0h1m1 0h2m15 0h1m4 0h1m3 0h2m3 0h2m-225 1h1m1 0h1m3 0h2m4 0h2m4 0h2m2 0h2m3 0h1m1 0h1m2 0h1m4 0h3m4 0h1m3 0h3m5 0h1m3 0h2m6 0h1m1 0h2m2 0h4m2 0h3m2 0h2m4 0h2m3 0h3m3 0h1m3 0h3m4 0h1m3 0h2m14 0h1m1 0h1m1 0h1m2 0h1m2 0h3m2 0h3m4 0h1m3 0h1m12 0h1m1 0h1m5 0h2m4 0h1m4 0h1m15 0h2m1 0h1m1 0h1m4 0h3m1 0h4m-225 1h2m4 0h1m1 0h1m8 0h2m4 0h1m3 0h2m3 0h3m4 0h2m3 0h1m4 0h3m1 0h3m3 0h3m4 0h3m1 0h1m3 0h1m1 0h1m3 0h1m9 0h3m3 0h1m5 0h1m8 0h2m1 0h1m2 0h2m4 0h2m3 0h2m3 0h2m2 0h3m3 0h2m3 0h1m1 0h1m2 0h3m8 0h1m9 0h2m1 0h1m2 0h1m10 0h1m1 0h1m4 0h1m8 0h3m2 0h2m6 0h1m1 0h1m1 0h2m-226 1h3m3 0h1m1 0h1m5 0h1m2 0h3m3 0h1m3 0h1m6 0h1m2 0h4m2 0h1m1 0h1m2 0h1m2 0h1m4 0h1m4 0h1m5 0h1m3 0h2m2 0h2m4 0h1m8 0h1m1 0h1m3 0h3m1 0h1m5 0h1m1 0h1m5 0h1m3 0h2m3 0h1m3 0h2m5 0h1m2 0h2m4 0h2m4 0h1m3 0h1m2 0h1m1 0h1m15 0h3m24 0h1m6 0h3m3 0h1m2 0h2m3 0h4m-225 1h1m1 0h1m2 0h2m3 0h1m1 0h1m2 0h2m1 0h1m2 0h3m3 0h2m3 0h3m1 0h3m3 0h3m3 0h3m6 0h2m14 0h1m5 0h2m4 0h1m1 0h1m1 0h2m5 0h1m2 0h1m1 0h2m2 0h3m2 0h1m1 0h2m3 0h2m14 0h1m3 0h3m2 0h4m2 0h2m3 0h1m10 0h2m3 0h1m3 0h3m4 0h1m4 0h1m15 0h1m5 0h2m3 0h1m1 0h1m8 0h2m-224 1h1m2 0h2m9 0h2m1 0h1m3 0h1m3 0h3m2 0h2m4 0h2m4 0h1m4 0h1m21 0h2m1 0h1m2 0h1m8 0h1m5 0h1m3 0h1m4 0h1m4 0h2m1 0h1m2 0h1m4 0h3m3 0h1m1 0h1m11 0h4m2 0h2m1 0h1m1 0h3m2 0h2m20 0h1m16 0h1m15 0h3m1 0h1m6 0h1m3 0h1m1 0h1m-226 1h3m2 0h4m4 0h1m4 0h1m4 0h2m4 0h1m2 0h1m4 0h4m3 0h2m3 0h1m1 0h1m2 0h1m1 0h1m15 0h1m2 0h2m13 0h3m5 0h1m1 0h2m5 0h2m2 0h1m1 0h1m4 0h2m4 0h2m7 0h1m4 0h1m1 0h1m2 0h2m1 0h1m1 0h3m2 0h1m11 0h1m4 0h1m3 0h3m3 0h1m10 0h1m9 0h1m5 0h2m4 0h1m8 0h2m-223 1h2m3 0h1m1 0h1m3 0h2m2 0h3m3 0h3m2 0h3m2 0h3m2 0h2m1 0h1m2 0h1m1 0h1m3 0h3m2 0h1m16 0h2m1 0h2m9 0h1m10 0h2m3 0h2m3 0h1m1 0h1m2 0h4m2 0h2m4 0h1m5 0h1m3 0h1m4 0h1m1 0h1m2 0h4m2 0h3m2 0h1m5 0h1m3 0h2m11 0h1m10 0h1m18 0h1m1 0h1m2 0h1m10 0h2m-224 1h3m2 0h1m6 0h1m4 0h2m2 0h1m1 0h1m1 0h1m1 0h2m3 0h1m1 0h1m1 0h4m2 0h3m2 0h2m1 0h1m2 0h1m16 0h2m1 0h3m3 0h1m1 0h1m8 0h2m3 0h3m1 0h2m4 0h3m3 0h2m3 0h2m4 0h2m2 0h2m4 0h1m4 0h3m2 0h3m3 0h1m4 0h2m2 0h1m12 0h1m2 0h1m1 0h1m9 0h1m16 0h1m6 0h1m11 0h3m-225 1h2m10 0h2m2 0h4m2 0h2m3 0h1m1 0h1m2 0h1m2 0h1m1 0h3m3 0h1m1 0h1m3 0h2m8 0h1m1 0h1m12 0h4m4 0h1m8 0h1m4 0h8m3 0h2m3 0h2m3 0h3m8 0h2m4 0h1m4 0h2m2 0h2m4 0h1m3 0h2m15 0h1m4 0h2m19 0h2m12 0h1m2 0h1m3 0h1m1 0h1m1 0h2m-223 1h3m2 0h3m5 0h2m2 0h3m3 0h1m8 0h1m1 0h1m2 0h3m3 0h2m3 0h4m1 0h2m5 0h2m9 0h1m2 0h1m1 0h1m4 0h1m7 0h1m6 0h1m1 0h1m2 0h2m3 0h1m4 0h1m1 0h1m3 0h3m2 0h3m2 0h2m5 0h1m2 0h4m2 0h1m5 0h1m3 0h1m16 0h1m37 0h1m13 0h3m-224 1h2m2 0h1m1 0h2m7 0h4m1 0h4m2 0h1m1 0h1m2 0h4m1 0h4m2 0h1m4 0h4m3 0h1m4 0h1m13 0h4m4 0h1m3 0h1m9 0h1m4 0h2m3 0h1m1 0h1m2 0h3m4 0h1m4 0h2m2 0h1m2 0h1m3 0h1m3 0h2m3 0h4m2 0h3m1 0h2m20 0h2m15 0h1m4 0h1m5 0h1m10 0h1m2 0h1m5 0h2m-225 1h1m2 0h1m1 0h1m10 0h4m1 0h3m5 0h1m3 0h3m2 0h2m3 0h3m4 0h2m3 0h2m3 0h2m13 0h3m7 0h1m10 0h1m1 0h1m1 0h1m10 0h3m3 0h2m3 0h3m3 0h1m11 0h1m2 0h3m4 0h1m4 0h1m3 0h1m16 0h1m9 0h1m25 0h1m10 0h2m-224 1h2m3 0h2m4 0h1m1 0h1m1 0h4m1 0h3m4 0h2m7 0h4m2 0h2m5 0h2m1 0h2m4 0h1m1 0h1m4 0h1m2 0h2m3 0h2m4 0h1m16 0h2m1 0h2m10 0h3m2 0h2m3 0h3m2 0h2m4 0h2m2 0h1m2 0h1m2 0h3m2 0h2m4 0h1m22 0h1m9 0h1m34 0h3m-225 1h1m1 0h2m1 0h3m10 0h2m3 0h2m2 0h1m1 0h1m2 0h3m2 0h2m1 0h1m2 0h3m4 0h1m5 0h1m2 0h3m4 0h1m4 0h1m3 0h1m4 0h1m10 0h1m5 0h2m1 0h2m6 0h1m3 0h2m2 0h1m1 0h2m8 0h2m2 0h1m5 0h3m4 0h2m1 0h1m5 0h1m21 0h1m9 0h1m21 0h1m14 0h2m-225 1h1m1 0h2m2 0h2m4 0h1m1 0h1m1 0h2m1 0h1m2 0h3m1 0h1m1 0h2m2 0h3m2 0h4m2 0h1m1 0h1m3 0h3m1 0h2m6 0h1m9 0h1m3 0h2m19 0h3m2 0h2m3 0h1m5 0h2m3 0h3m4 0h1m3 0h2m3 0h1m4 0h3m2 0h4m1 0h1m1 0h1m4 0h1m20 0h1m35 0h2m5 0h1m2 0h3m-224 1h2m2 0h3m8 0h4m2 0h1m4 0h2m5 0h1m2 0h3m5 0h1m3 0h3m4 0h1m3 0h1m13 0h2m1 0h1m4 0h1m13 0h1m1 0h1m3 0h1m8 0h1m1 0h2m3 0h1m1 0h1m2 0h2m3 0h1m3 0h1m1 0h1m2 0h3m4 0h3m2 0h1m3 0h1m21 0h1m33 0h1m3 0h1m3 0h2m3 0h1m-221 1h1m3 0h3m4 0h1m4 0h1m2 0h3m3 0h3m2 0h3m2 0h2m1 0h1m2 0h1m1 0h1m14 0h2m10 0h1m1 0h4m7 0h1m12 0h1m3 0h1m4 0h1m3 0h3m3 0h1m1 0h1m3 0h2m4 0h2m2 0h3m2 0h2m5 0h1m3 0h2m3 0h2m66 0h1m1 0h1m-224 1h2m3 0h1m10 0h2m2 0h3m3 0h3m2 0h2m3 0h3m4 0h2m3 0h3m2 0h1m4 0h2m14 0h1m1 0h1m18 0h3m2 0h2m8 0h3m5 0h1m4 0h1m3 0h2m3 0h2m2 0h1m1 0h2m2 0h3m3 0h2m2 0h1m2 0h1m2 0h1m14 0h1m5 0h2m26 0h1m13 0h1m-223 1h3m3 0h2m4 0h1m3 0h2m1 0h1m1 0h2m4 0h2m3 0h3m3 0h3m2 0h2m4 0h2m3 0h2m14 0h1m3 0h4m12 0h1m6 0h2m2 0h1m9 0h2m1 0h1m3 0h2m3 0h1m4 0h3m2 0h2m4 0h2m2 0h1m1 0h1m3 0h1m1 0h1m3 0h1m57 0h1m8 0h2m-224 1h2m5 0h1m8 0h4m9 0h1m2 0h3m2 0h4m2 0h3m3 0h1m1 0h1m3 0h2m4 0h1m4 0h1m3 0h2m2 0h4m10 0h1m7 0h2m3 0h2m10 0h2m2 0h1m1 0h1m4 0h1m3 0h2m2 0h1m4 0h2m1 0h1m2 0h2m1 0h1m1 0h1m4 0h1m1 0h1m58 0h1m7 0h2m-224 1h3m4 0h1m5 0h1m2 0h1m1 0h2m2 0h3m4 0h1m2 0h3m2 0h1m1 0h2m2 0h2m6 0h1m7 0h3m5 0h1m7 0h1m1 0h1m9 0h2m2 0h2m3 0h2m3 0h3m3 0h2m2 0h4m2 0h3m4 0h1m2 0h2m1 0h1m3 0h1m3 0h1m4 0h1m6 0h1m2 0h1m1 0h1m2 0h1m28 0h1m36 0h2m-224 1h1m3 0h2m5 0h1m3 0h1m3 0h1m1 0h2m2 0h4m1 0h4m1 0h4m3 0h1m4 0h2m5 0h1m3 0h1m13 0h4m9 0h1m4 0h1m4 0h2m2 0h1m9 0h3m3 0h3m4 0h2m2 0h1m5 0h1m2 0h2m1 0h1m2 0h2m3 0h1m4 0h2m22 0h1m2 0h1m4 0h1m38 0h1m-224 1h1m11 0h1m2 0h4m1 0h2m5 0h1m3 0h1m1 0h1m2 0h4m2 0h2m3 0h4m2 0h2m4 0h1m29 0h1m5 0h3m2 0h3m8 0h3m2 0h3m2 0h3m2 0h2m3 0h4m2 0h3m4 0h1m2 0h1m73 0h2m-224 1h1m1 0h1m3 0h2m4 0h2m10 0h1m2 0h3m2 0h3m4 0h1m4 0h1m3 0h1m1 0h2m4 0h1m2 0h1m15 0h1m21 0h2m3 0h1m4 0h1m3 0h4m2 0h1m1 0h1m2 0h4m1 0h2m8 0h2m1 0h1m10 0h1m3 0h2m55 0h1m9 0h1m-218 1h4m8 0h1m1 0h1m2 0h1m4 0h2m4 0h2m2 0h1m1 0h2m2 0h1m1 0h1m2 0h4m4 0h1m3 0h1m13 0h2m10 0h1m4 0h1m4 0h3m2 0h1m9 0h3m5 0h1m3 0h1m4 0h1m3 0h2m5 0h1m9 0h1m5 0h1m24 0h1m41 0h1m-217 1h2m8 0h2m1 0h1m1 0h3m3 0h3m2 0h3m3 0h1m1 0h1m3 0h2m4 0h2m3 0h1m5 0h1m8 0h1m3 0h1m1 0h2m7 0h1m5 0h1m4 0h3m1 0h2m6 0h1m2 0h4m2 0h1m5 0h3m3 0h1m8 0h1m10 0h1m5 0h1m19 0h2m26 0h1m20 0h1m-225 1h1m1 0h1m3 0h1m1 0h1m4 0h1m3 0h2m2 0h2m4 0h2m3 0h1m1 0h1m2 0h1m1 0h2m8 0h3m2 0h2m3 0h3m8 0h1m1 0h1m1 0h2m1 0h1m13 0h1m4 0h3m2 0h3m8 0h2m3 0h3m3 0h2m2 0h2m1 0h1m2 0h2m3 0h1m1 0h1m13 0h1m33 0h1m33 0h4m-224 1h1m3 0h3m3 0h2m2 0h1m1 0h2m2 0h1m1 0h1m2 0h3m2 0h3m2 0h1m1 0h1m4 0h1m4 0h3m3 0h1m3 0h2m14 0h2m13 0h2m5 0h1m13 0h1m1 0h2m3 0h2m3 0h1m4 0h2m3 0h1m5 0h1m10 0h1m2 0h2m21 0h1m45 0h1m-223 1h4m2 0h2m9 0h3m2 0h3m3 0h2m2 0h4m1 0h4m3 0h1m4 0h1m1 0h1m2 0h1m4 0h3m9 0h2m1 0h4m14 0h1m3 0h3m2 0h2m8 0h1m1 0h2m2 0h4m7 0h3m3 0h1m4 0h1m10 0h1m14 0h1m14 0h1m15 0h1m27 0h1m-223 1h1m3 0h3m9 0h2m2 0h2m8 0h4m1 0h4m2 0h3m3 0h1m9 0h1m14 0h3m13 0h1m6 0h2m2 0h1m9 0h3m3 0h1m1 0h1m2 0h3m3 0h2m7 0h1m2 0h1m14 0h1m35 0h1m5 0h1m25 0h2m-225 1h1m6 0h1m9 0h1m4 0h2m3 0h3m2 0h1m1 0h1m3 0h1m4 0h2m16 0h1m12 0h4m19 0h1m3 0h2m10 0h1m5 0h1m3 0h2m4 0h1m2 0h3m3 0h1m9 0h2m5 0h1m19 0h1m5 0h1m39 0h1m1 0h2m-225 1h3m13 0h1m2 0h1m2 0h2m3 0h3m2 0h3m3 0h1m5 0h1m6 0h1m8 0h2m9 0h2m3 0h2m20 0h1m1 0h2m9 0h3m3 0h2m6 0h1m3 0h2m3 0h1m3 0h1m68 0h1m16 0h1m-223 1h1m4 0h1m4 0h1m4 0h2m2 0h1m5 0h2m5 0h1m2 0h3m3 0h1m6 0h1m2 0h1m5 0h1m12 0h1m1 0h2m1 0h1m18 0h2m3 0h2m3 0h1m4 0h1m1 0h2m2 0h2m3 0h2m3 0h1m1 0h1m3 0h1m3 0h1m7 0h1m8 0h1m26 0h1m42 0h1m-225 1h3m3 0h1m10 0h3m7 0h2m3 0h4m1 0h4m15 0h1m14 0h1m4 0h2m13 0h1m3 0h1m2 0h1m3 0h1m8 0h3m3 0h1m1 0h1m2 0h2m4 0h2m3 0h1m4 0h1m33 0h1m19 0h1m30 0h2m-219 1h2m8 0h1m2 0h1m3 0h2m2 0h3m3 0h2m4 0h1m14 0h1m16 0h1m2 0h2m20 0h1m1 0h1m2 0h2m9 0h2m3 0h1m5 0h1m4 0h1m6 0h1m2 0h1m83 0h3m-224 1h2m4 0h1m11 0h1m1 0h2m1 0h1m4 0h1m2 0h2m1 0h1m1 0h4m2 0h1m1 0h1m13 0h2m11 0h1m1 0h1m15 0h1m5 0h1m5 0h1m3 0h1m4 0h3m3 0h1m1 0h1m8 0h1m1 0h1m6 0h3m9 0h1m72 0h1m1 0h1m-223 1h1m3 0h2m10 0h1m2 0h1m1 0h2m3 0h2m3 0h2m2 0h3m13 0h1m16 0h2m2 0h1m1 0h2m17 0h2m4 0h1m10 0h1m1 0h1m60 0h2m45 0h2m-223 1h1m3 0h3m5 0h1m2 0h2m1 0h1m1 0h1m1 0h1m4 0h1m5 0h1m3 0h1m22 0h1m8 0h1m3 0h1m21 0h2m2 0h2m9 0h4m7 0h1m1 0h1m3 0h1m5 0h1m4 0h1m14 0h1m-149 1h2m8 0h1m6 0h1m3 0h1m1 0h1m3 0h2m21 0h1m2 0h2m15 0h2m17 0h2m5 0h1m10 0h1m5 0h1m2 0h1m1 0h1m3 0h3m77 0h1m14 0h3m-223 1h1m2 0h1m9 0h3m10 0h1m3 0h1m4 0h3m3 0h1m9 0h1m6 0h1m8 0h1m25 0h2m2 0h3m8 0h1m6 0h2m3 0h1m4 0h3m7 0h1m1 0h1m13 0h1m21 0h1m-175 1h1m3 0h1m7 0h1m2 0h1m3 0h2m4 0h2m3 0h1m12 0h1m13 0h1m1 0h1m30 0h1m2 0h3m2 0h3m3 0h2m9 0h1m5 0h2m4 0h1m42 0h1m34 0h1m13 0h1m-217 1h2m10 0h2m8 0h2m10 0h2m18 0h3m8 0h1m24 0h2m3 0h1m1 0h1m9 0h1m1 0h1m4 0h1m7 0h1m2 0h1m3 0h1m46 0h1m15 0h1m-181 1h1m3 0h1m4 0h2m4 0h3m2 0h3m19 0h1m1 0h1m33 0h1m5 0h2m16 0h1m3 0h3m12 0h1m1 0h1m34 0h1m7 0h1m-170 1h1m2 0h1m9 0h3m2 0h3m5 0h1m3 0h1m11 0h1m2 0h2m27 0h1m7 0h1m4 0h1m1 0h1m2 0h1m5 0h2m8 0h1m1 0h1m4 0h2m8 0h1m82 0h1m-207 1h1m1 0h1m9 0h2m25 0h1m4 0h1m9 0h1m24 0h2m20 0h1m1 0h1m3 0h2m3 0h2m4 0h1m73 0h1m-207 1h1m20 0h1m4 0h2m2 0h2m1 0h1m8 0h1m9 0h1m4 0h1m36 0h1m5 0h1m15 0h1m9 0h1m1 0h1m9 0h1m-113 1h2m2 0h3m3 0h3m3 0h1m9 0h1m5 0h1m9 0h1m24 0h2m14 0h3m9 0h1m4 0h2m-114 1h1m1 0h1m3 0h1m4 0h3m2 0h3m2 0h1m21 0h1m1 0h1m34 0h1m3 0h2m1 0h1m15 0h1m2 0h1m1 0h1m3 0h1m10 0h1m52 0h1m-176 1h1m3 0h2m1 0h1m2 0h1m5 0h1m1 0h1m1 0h1m2 0h1m18 0h2m9 0h1m24 0h2m3 0h2m10 0h3m13 0h2m4 0h1m-119 1h1m5 0h2m5 0h1m2 0h1m1 0h1m60 0h1m6 0h1m3 0h1m10 0h1m4 0h1m1 0h1m3 0h1m1 0h1m23 0h1m21 0h1m-160 1h2m8 0h1m1 0h1m2 0h1m1 0h2m1 0h2m14 0h1m6 0h2m8 0h2m23 0h2m3 0h1m1 0h1m15 0h1m4 0h2m29 0h1m-148 1h1m10 0h2m1 0h1m5 0h1m1 0h1m2 0h3m2 0h1m6 0h1m10 0h1m4 0h2m33 0h2m15 0h1m1 0h1m2 0h1m1 0h1m3 0h1m4 0h1m77 0h1m-206 1h1m14 0h1m2 0h1m17 0h1m1 0h1m3 0h1m15 0h2m11 0h1m23 0h1m5 0h1m10 0h2m3 0h1m15 0h1m-134 1h1m15 0h2m5 0h1m2 0h2m3 0h1m1 0h1m3 0h3m31 0h1m22 0h1m1 0h1m3 0h2m10 0h1m5 0h1m3 0h1m-108 1h4m8 0h1m5 0h1m3 0h1m5 0h1m10 0h1m4 0h1m11 0h1m22 0h1m1 0h1m20 0h1m3 0h1m1 0h2m2 0h1m-111 1h2m7 0h1m1 0h1m4 0h2m7 0h1m16 0h1m10 0h1m19 0h1m10 0h2m8 0h3m7 0h2m98 0h1m-202 1h1m6 0h1m3 0h2m3 0h1m23 0h1m26 0h1m6 0h1m1 0h1m2 0h2m10 0h1m5 0h3m3 0h1m2 0h1m94 0h1m-205 1h1m16 0h1m59 0h2m3 0h1m1 0h2m8 0h1m5 0h1m3 0h1m11 0h1m-128 1h1m5 0h1m4 0h1m13 0h1m5 0h1m6 0h1m9 0h1m39 0h1m5 0h2m20 0h1m15 0h1m-101 1h1m61 0h3m30 0h1m19 0h1m-148 1h1m5 0h1m7 0h1m5 0h1m5 0h3m59 0h2m4 0h2m20 0h2m50 0h1m-153 1h1m15 0h1m14 0h1m40 0h3m-96 1h1m24 0h1m4 0h1m1 0h1m9 0h1m14 0h2m15 0h1m18 0h2m4 0h1m-89 1h1m13 0h1m6 0h1m4 0h1m55 0h2m3 0h2m1 0h1m87 0h1m-168 1h1m8 0h1m61 0h1m6 0h2m-97 1h1m4 0h1m5 0h1m19 0h1m15 0h1m41 0h2m4 0h1m37 0h1m45 0h1m-169 1h1m8 0h1m4 0h2m61 0h2m3 0h4m2 0h1m47 0h1m-148 1h1m5 0h1m18 0h1m1 0h1m5 0h1m54 0h3m3 0h1m52 0h1m4 0h1m-128 1h1m1 0h1m60 0h2m4 0h2m45 0h1m42 0h1m-178 1h1m13 0h1m3 0h1m1 0h1m4 0h1m14 0h1m19 0h1m20 0h2m5 0h1m15 0h1m-117 1h1m5 0h1m24 0h2m60 0h1m5 0h1m52 0h1m-128 1h1m4 0h2m61 0h1m5 0h2m31 0h1m-112 1h1m10 0h1m61 0h2m36 0h1m4 0h1m-108 1h3m4 0h1m19 0h1m36 0h1m32 0h1m45 0h1m-149 1h1m5 0h2m3 0h1m56 0h2m-69 1h1m4 0h1m9 0h1m15 0h1m36 0h1m4 0h1m-102 1h1m95 0h1m94 0h1m-164 1h1m66 0h2m57 0h1m-127 1h1m66 0h3m-65 1h1m62 0h1m4 0h1m52 0h1m-128 1h1m26 0h1m21 0h1m15 0h1m3 0h1m-59 1h1m56 0h2m-90 1h1m87 0h3m109 0h1m-181 1h1m5 0h1m62 0h1m4 0h1m94 0h1m-165 1h1m62 0h1m1 0h1m74 0h1m-140 1h1m63 0h1m-71 1h1m47 0h2m-44 1h1m58 0h1m4 0h1m13 0h2m21 0h1m53 0h1m-88 1h1m-69 1h1m20 0h1m41 0h1m4 0h1m10 1h1m41 0h1m51 0h1m-132 1h1m19 0h1m-57 1h1m3 0h1m57 0h1m52 1h1m36 0h1m-165 1h1m67 0h1m58 0h1m-54 1h1m-96 1h1m26 0h1m61 0h1m5 0h1m47 0h1m-49 1h1m47 1h1m-118 1h1m116 0h1m-59 1h1m4 0h1m57 1h1m-101 2h1m99 0h1m-63 1h1m3 1h1m-90 1h1m88 0h1m57 0h1m-59 1h1m-1 1h1m46 1h1m-117 1h1m4 0h2m67 0h1m-25 1h1m-46 1h1m126 0h1m-155 4h1m148 0h1m32 0h1m-182 3h1m26 0h1m10 0h1m146 0h1m0 1h1m-160 1h1m79 1h1m-81 1h1m-1 1h1m157 0h1m0 3h1m-39 2h1m-1 3h1m-1 1h1m37 0h1m-34 1h1m47 3h1m-95 3h1m-3 1h1m95 0h1m-97 1h1m79 0h1m-38 1h1m-16 2h1m14 1h1m-116 1h1m72 2h1m-86 4h1m126 0h1"/>
<path stroke-opacity="0.798" d="M525 89.5h1m-2 88h1m-10 10h1m-23 3h1m35 1h1m0 2h1m-113 1h1m-1 1h1m114 0h1m-116 1h1m1 0h1m113 0h1m-6 1h1m-112 1h1m105 0h1m4 0h1m-126 1h1m77 1h1m5 0h1m-79 1h1m7 0h1m-10 2h1m78 1h1m15 0h1m-18 1h1m54 0h1m-144 1h1m15 0h1m71 0h2m44 0h2m-147 1h1m142 0h1m-117 1h1m114 0h1m-186 1h1m157 0h1m-117 1h1m8 0h1m17 0h1m9 0h2m55 0h1m32 0h1m1 0h1m13 0h2m-133 1h1m82 0h1m-95 1h1m15 1h1m10 0h1m3 0h1m6 0h1m55 0h1m3 0h1m28 0h1m17 0h1m16 0h1m-157 1h1m4 0h1m71 0h1m57 0h1m10 0h1m-60 1h2m-10 1h1m56 0h1m-142 1h1m24 0h1m9 0h1m1 0h1m61 0h1m52 0h1m-155 1h1m6 0h1m15 0h1m3 0h2m4 0h1m4 0h1m61 0h1m5 0h1m37 0h1m-203 1h1m4 0h1m42 0h1m17 0h1m12 0h1m69 0h1m-60 1h2m72 0h1m-91 1h1m62 0h1m11 0h1m2 0h1m-153 1h1m78 0h1m9 0h1m7 0h1m45 0h1m67 0h1m-153 1h1m21 0h1m7 0h1m47 0h1m15 0h1m48 0h1m-154 1h1m40 0h1m58 0h1m51 0h1m-43 1h1m3 0h1m40 0h1m17 0h1m-218 1h1m207 0h1m-147 1h1m2 0h1m72 0h1m61 0h1m-200 1h1m47 0h1m34 0h1m6 0h1m56 0h1m10 0h1m9 0h1m-109 1h1m14 0h1m66 0h1m74 0h1m-133 1h1m65 0h1m1 0h1m3 0h1m47 0h1m-211 2h1m47 0h1m31 0h1m72 0h1m4 0h1m15 0h1m36 0h1m-165 1h1m5 0h1m34 0h1m5 0h1m61 0h2m63 0h1m-137 1h1m3 0h1m25 0h1m25 0h1m9 0h1m1 0h1m45 0h1m1 0h1m5 0h1m4 0h1m-177 1h1m53 0h1m-93 1h2m47 0h1m48 0h1m55 0h1m5 0h1m41 0h1m-165 1h1m11 0h1m36 0h1m3 0h1m47 0h1m69 0h1m13 0h2m-165 1h1m21 0h1m13 0h1m21 0h1m41 0h1m14 0h1m-115 1h1m6 0h1m22 0h1m27 0h1m23 0h1m1 0h1m12 0h1m-153 1h1m44 0h1m15 0h1m22 0h2m130 0h1m-217 1h1m80 0h1m24 0h2m46 0h1m-160 1h1m65 0h1m44 0h2m35 0h1m-31 1h1m34 0h1m-153 1h1m36 0h1m52 0h1m20 0h1m73 0h1m35 0h1m-222 1h1m35 0h1m28 0h1m3 0h1m4 0h1m5 0h1m-82 1h2m14 0h1m73 0h1m26 0h1m67 0h1m22 0h1m-204 1h1m75 0h1m8 0h1m20 0h1m63 0h1m31 0h1m-209 1h1m48 0h1m63 0h1m109 0h1m-222 1h1m4 0h1m42 0h1m36 0h1m3 0h1m117 0h1m-203 1h1m58 0h2m8 0h1m14 0h1m21 0h1m110 0h1m-224 1h1m48 0h1m29 0h1m9 0h1m5 0h1m22 0h1m23 0h1m-95 1h1m21 0h1m67 0h1m69 0h1m-112 1h1m123 0h1m-148 1h1m22 0h1m51 0h1m25 0h1m-171 1h1m90 0h1m15 0h1m62 0h1m47 0h1m-175 1h1m47 0h1m39 0h1m11 0h1m-61 1h1m28 0h1m19 0h1m69 0h1m-208 1h1m110 0h1m-64 1h1m61 0h1m26 0h1m-138 1h1m72 0h2m35 0h1m4 0h1m104 0h1m-222 1h1m5 0h1m42 0h1m47 0h1m123 0h1m-111 1h1m32 0h1m-139 1h1m90 0h1m109 0h1m-202 1h1m24 0h1m1 0h1m15 0h1m68 0h1m-118 1h1m31 0h1m189 0h1m-81 1h1m-48 1h1m21 0h1m-119 1h1m47 1h1m26 1h1m66 0h1m-143 1h1m30 1h1m79 0h1m4 0h1m1 0h1m23 0h1m-143 1h1m95 0h1m20 0h1m-112 1h1m109 0h2m-23 1h1m20 0h1m26 0h1m-139 1h1m105 0h1m-63 1h1m47 0h1m-81 1h1m120 0h1m-134 1h1m-6 1h1m-1 1h2m114 0h2m-118 1h2m115 0h2m-119 1h1m31 0h1m4 0h1m37 0h1m-77 1h2m96 0h1m13 0h1m4 0h1m-6 1h1m-112 1h1m94 0h1m21 0h1m-118 1h1m110 0h1m-107 1h1m32 0h1m56 0h1m-91 1h1m26 0h1m62 1h1m-91 2h1m218 0h1m-192 4h1m-1 1h1m-1 4h1m-1 4h1m-2 2h1m61 36h1m0 1h1"/>
</g><use href="#P" transform="translate(-225 0)"/></g>
<path d="M80.5 427.5V58.5H576.5V427.5Z" fill="none" stroke="#000" stroke-width="1.111" stroke-linejoin="miter"/>
<path d="M103.5 427.5v4.861M159.5 427.5v4.861M215.5 427.5v4.861M272.5 427.5v4.861M328.5 427.5v4.861M384.5 427.5v4.861M441.5 427.5v4.861M497.5 427.5v4.861M553.5 427.5v4.861M80.5 378.5h-4.861M80.5 319.5h-4.861M80.5 260.5h-4.861M80.5 201.5h-4.861M80.5 142.5h-4.861M80.5 84.5h-4.861" fill="none" stroke="#000" stroke-width="1.111"/>
<g style="font-size:13.889px;font-family:'DejaVu Sans','Liberation Sans',sans-serif" fill="#000">
<text x="102.30" y="448.04" text-anchor="middle" textLength="41.6" lengthAdjust="spacing">−1.00</text>
<text x="158.41" y="448.04" text-anchor="middle" textLength="41.6" lengthAdjust="spacing">−0.75</text>
<text x="215.27" y="448.04" text-anchor="middle" textLength="41.6" lengthAdjust="spacing">−0.50</text>
<text x="271.39" y="448.04" text-anchor="middle" textLength="41.6" lengthAdjust="spacing">−0.25</text>
<text x="328.75" y="448.04" text-anchor="middle" textLength="29.9" lengthAdjust="spacing">0.00</text>
<text x="384.61" y="448.04" text-anchor="middle" textLength="29.9" lengthAdjust="spacing">0.25</text>
<text x="440.73" y="448.04" text-anchor="middle" textLength="29.9" lengthAdjust="spacing">0.50</text>
<text x="497.59" y="448.04" text-anchor="middle" textLength="29.9" lengthAdjust="spacing">0.75</text>
<text x="553.70" y="448.04" text-anchor="middle" textLength="29.9" lengthAdjust="spacing">1.00</text>
<text x="70.53" y="382.99" text-anchor="end">11</text>
<text x="70.78" y="324.02" text-anchor="end">12</text>
<text x="70.78" y="265.05" text-anchor="end">13</text>
<text x="69.78" y="206.95" text-anchor="end">14</text>
<text x="70.78" y="147.98" text-anchor="end">15</text>
<text x="69.78" y="89.01" text-anchor="end">16</text>
<text x="327.25" y="467.04" text-anchor="middle" textLength="41" lengthAdjust="spacing">phase</text>
<text x="42.66" y="244.09" text-anchor="middle" transform="rotate(-90 42.66 244.09)">flux</text>
<text x="327.75" y="47.95" text-anchor="middle" textLength="419" lengthAdjust="spacing" style="font-size:16.667px">1SWASPJ124106.36-555709.9 Period 3716653.75s</text>
</g>
</svg></body></html>
